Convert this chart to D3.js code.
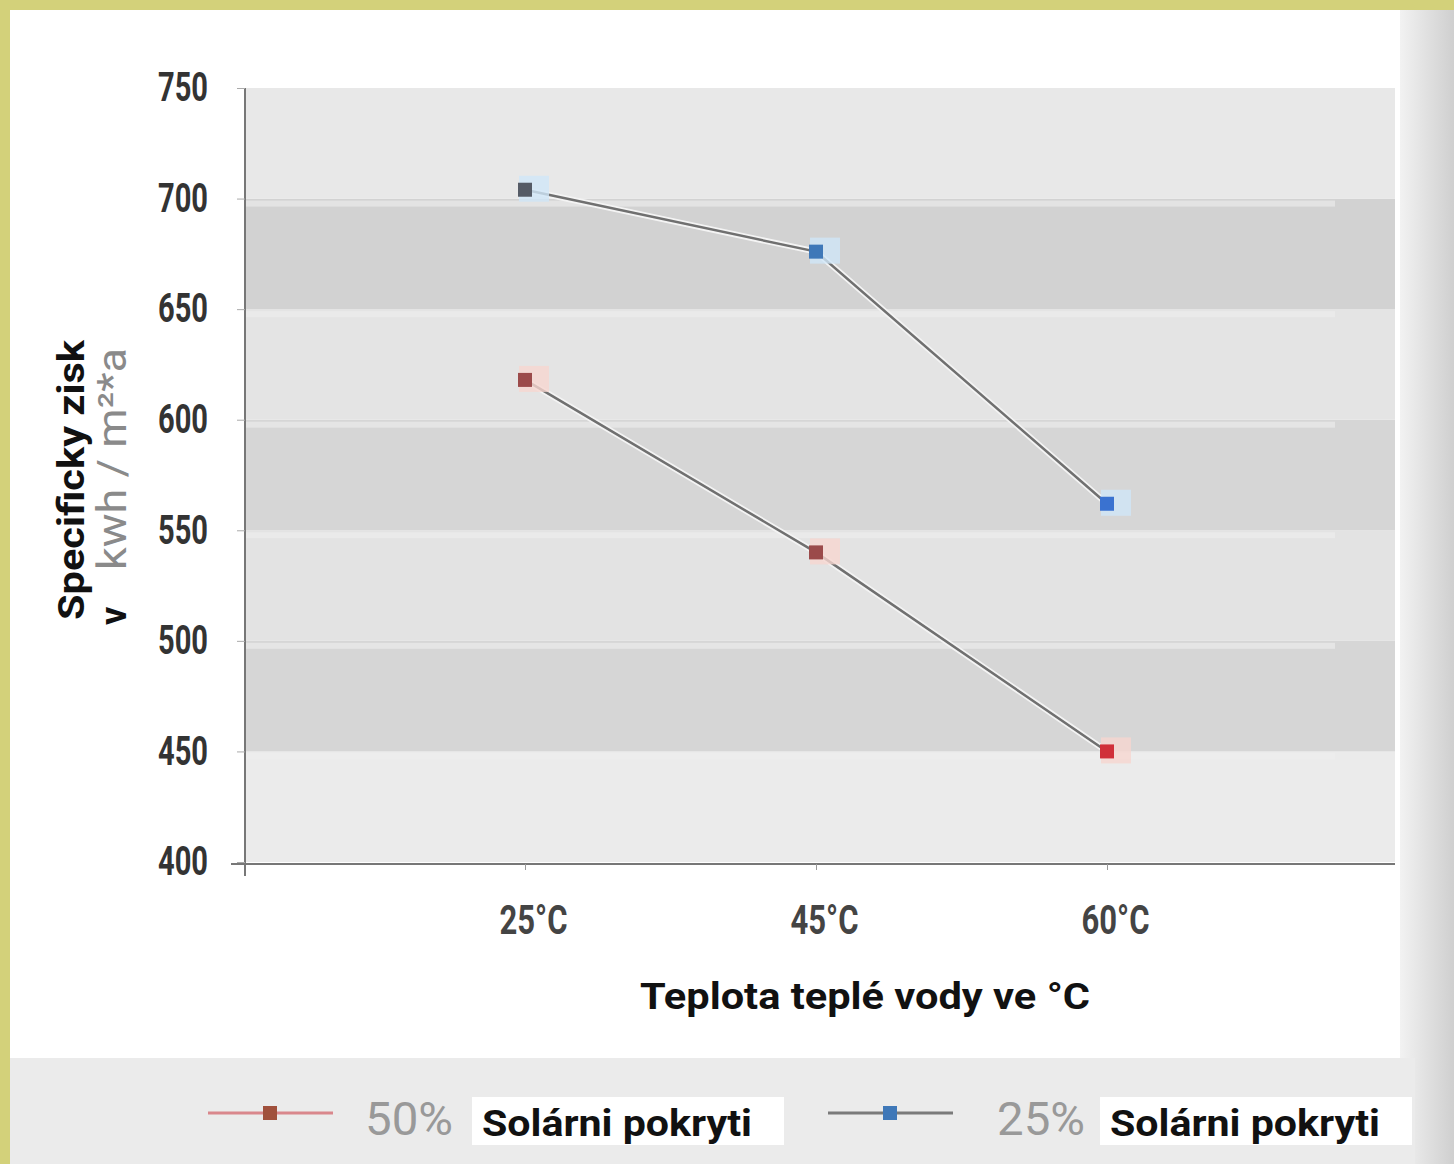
<!DOCTYPE html>
<html>
<head>
<meta charset="utf-8">
<script src="https://cdn.jsdelivr.net/npm/d3@7"></script>
<style>
  body { margin: 0; background: #fff; }
  svg { display: block; }
</style>
</head>
<body>
<div id="chart"></div>
<script>
// data
const categories = ["25°C", "45°C", "60°C"];
const series50 = [618, 540, 450];
const series25 = [704, 676, 562];
const yTicks = [400, 450, 500, 550, 600, 650, 700, 750];
const legendLabels = ["50%", "25%"];

let width = 1454, height = 1164;
let plotLeft = 245, plotRight = 1395, plotTop = 88, plotBottom = 862;

const svg = d3.select("#chart")
        .append("svg")
        .attr("width", width)
        .attr("height", height);

// yellow frame + white page
svg.append("rect").attr("width", width).attr("height", height).attr("fill", "#d3d17a");
svg.append("rect").attr("x", 10).attr("y", 10).attr("width", width - 10).attr("height", height - 10).attr("fill", "#fff");

// grey strip on the right
const grad = svg.append("defs").append("linearGradient").attr("id", "side");
grad.append("stop").attr("offset", "0%").attr("stop-color", "#f2f2f2");
grad.append("stop").attr("offset", "100%").attr("stop-color", "#cfcfcf");
svg.append("rect").attr("x", 1400).attr("y", 10).attr("width", 54).attr("height", height - 10).attr("fill", "url(#side)");

const y = d3.scaleLinear().domain([400, 750]).range([plotBottom, plotTop]);
const x = d3.scalePoint().domain(categories).range([525, 1107]);

// alternating bands
const bandFill = ["#ebebeb", "#d6d6d6", "#e3e3e3", "#d6d6d6", "#e4e4e4", "#d2d2d2", "#e8e8e8"];
svg.selectAll(".band")
    .data(yTicks.slice(0, -1))
    .enter()
        .append("rect")
        .attr("x", plotLeft)
        .attr("y", d => y(d + 50))
        .attr("width", plotRight - plotLeft)
        .attr("height", d => y(d) - y(d + 50))
        .attr("fill", (d, i) => bandFill[i]);

// narrow lighter strips at top of each band (scan look)
svg.selectAll(".hl")
    .data(yTicks.slice(1, -1))
    .enter()
        .append("rect")
        .attr("x", plotLeft)
        .attr("y", d => y(d) + 2)
        .attr("width", plotRight - plotLeft - 60)
        .attr("height", 6)
        .attr("fill", "#efefef")
        .attr("opacity", 0.6);

const condensed = "'Roboto', 'Liberation Sans', sans-serif";

// y axis
const yAxis = svg.append("g")
        .attr("transform", "translate(" + plotLeft + ",0)")
        .call(d3.axisLeft(y).tickValues(yTicks).tickSize(8).tickPadding(29));
yAxis.select(".domain").attr("stroke", "#777").attr("stroke-width", 2).attr("d", "M0," + plotTop + "V" + (plotBottom + 14));
yAxis.selectAll(".tick line").attr("stroke", "#aaa");
yAxis.selectAll("text")
    .attr("font-family", condensed)
    .attr("font-weight", "bold")
    .attr("font-size", 40)
    .attr("fill", "#333")
    .attr("textLength", 50)
    .attr("lengthAdjust", "spacingAndGlyphs");

// x axis
const xAxis = svg.append("g")
        .attr("transform", "translate(0," + (plotBottom + 2) + ")")
        .call(d3.axisBottom(x).tickSize(6).tickPadding(36));
xAxis.select(".domain").attr("stroke", "#777").attr("stroke-width", 2).attr("d", "M" + (plotLeft - 14) + ",0H" + plotRight);
xAxis.selectAll(".tick line").attr("stroke", "#999");
xAxis.selectAll("text")
    .attr("dx", 8)
    .attr("font-family", condensed)
    .attr("font-weight", "bold")
    .attr("font-size", 40)
    .attr("fill", "#444")
    .attr("textLength", 68)
    .attr("lengthAdjust", "spacingAndGlyphs");

// axis titles
const yTitle = svg.append("text")
        .attr("transform", "translate(84,480) rotate(-90)")
        .attr("font-family", "Roboto, 'Liberation Sans', sans-serif")
        .attr("font-size", 36);
yTitle.append("tspan").attr("x", -140).attr("font-weight", "bold").attr("fill", "#111")
    .attr("textLength", 280).attr("lengthAdjust", "spacingAndGlyphs").text("Specificky zisk");
yTitle.append("tspan").attr("x", -145).attr("dy", 42).attr("font-weight", "bold").attr("fill", "#111").text("v");
yTitle.append("tspan").attr("x", -90).attr("fill", "#8a8a8a").attr("font-size", 40)
    .attr("textLength", 222).attr("lengthAdjust", "spacingAndGlyphs").text("kwh / m²*a");

svg.append("text")
    .attr("x", 865)
    .attr("y", 1009)
    .attr("text-anchor", "middle")
    .attr("font-family", "Roboto, 'Liberation Sans', sans-serif")
    .attr("font-weight", "bold")
    .attr("font-size", 37)
    .attr("fill", "#111")
    .attr("textLength", 450)
    .attr("lengthAdjust", "spacingAndGlyphs")
    .text("Teplota teplé vody ve °C");

// lines
const line = d3.line().x((d, i) => x(categories[i])).y(d => y(d));

const series = [
    {name: "50%", values: series50, lineColor: "#707070", markColor: ["#9b4a4a", "#9b4a4a", "#d0303a"], halo: "#f6d6d0"},
    {name: "25%", values: series25, lineColor: "#707070", markColor: ["#555b66", "#3f78b8", "#3a72d0"], halo: "#cfe6f8"}
];

series.forEach(s => {
    svg.append("path")
        .datum(s.values)
        .attr("fill", "none")
        .attr("stroke", "#f4f4f4")
        .attr("stroke-width", 6)
        .attr("d", line);
    svg.append("path")
        .datum(s.values)
        .attr("fill", "none")
        .attr("stroke", s.lineColor)
        .attr("stroke-width", 2.5)
        .attr("d", line);
    svg.selectAll(null)
        .data(s.values)
        .enter()
            .append("rect")
            .attr("x", (d, i) => x(categories[i]) - 6)
            .attr("y", d => y(d) - 14)
            .attr("width", 30)
            .attr("height", 26)
            .attr("fill", s.halo)
            .attr("opacity", 0.8);
    svg.selectAll(null)
        .data(s.values)
        .enter()
            .append("rect")
            .attr("x", (d, i) => x(categories[i]) - 7)
            .attr("y", d => y(d) - 7)
            .attr("width", 14)
            .attr("height", 14)
            .attr("fill", (d, i) => s.markColor[i]);
});

// legend band
svg.append("rect").attr("x", 10).attr("y", 1058).attr("width", 1405).attr("height", 106).attr("fill", "#ebebeb");

const legend = [
    {label: legendLabels[0], x: 208, lineColor: "#d9878c", markColor: "#a0503c", textX: 365, boxX: 472, boxW: 312},
    {label: legendLabels[1], x: 828, lineColor: "#7a7a7a", markColor: "#3f78b8", textX: 997, boxX: 1100, boxW: 312}
];
legend.forEach(l => {
    svg.append("rect").attr("x", l.boxX).attr("y", 1097).attr("width", l.boxW).attr("height", 48).attr("fill", "#fff");
    svg.append("line")
        .attr("x1", l.x).attr("x2", l.x + 125)
        .attr("y1", 1113).attr("y2", 1113)
        .attr("stroke", l.lineColor).attr("stroke-width", 3);
    svg.append("rect")
        .attr("x", l.x + 55).attr("y", 1106).attr("width", 14).attr("height", 14)
        .attr("fill", l.markColor);
    svg.append("text")
        .attr("x", l.textX).attr("y", 1135)
        .attr("font-family", "Roboto, 'Liberation Sans', sans-serif")
        .attr("font-size", 46)
        .attr("fill", "#999")
        .attr("textLength", 88)
        .attr("lengthAdjust", "spacingAndGlyphs")
        .text(l.label);
    svg.append("text")
        .attr("x", l.boxX + 10).attr("y", 1136)
        .attr("font-family", "Roboto, 'Liberation Sans', sans-serif")
        .attr("font-weight", "bold")
        .attr("font-size", 37)
        .attr("fill", "#111")
        .attr("textLength", 270)
        .attr("lengthAdjust", "spacingAndGlyphs")
        .text("Solárni pokryti");
});
</script>
</body>
</html>
